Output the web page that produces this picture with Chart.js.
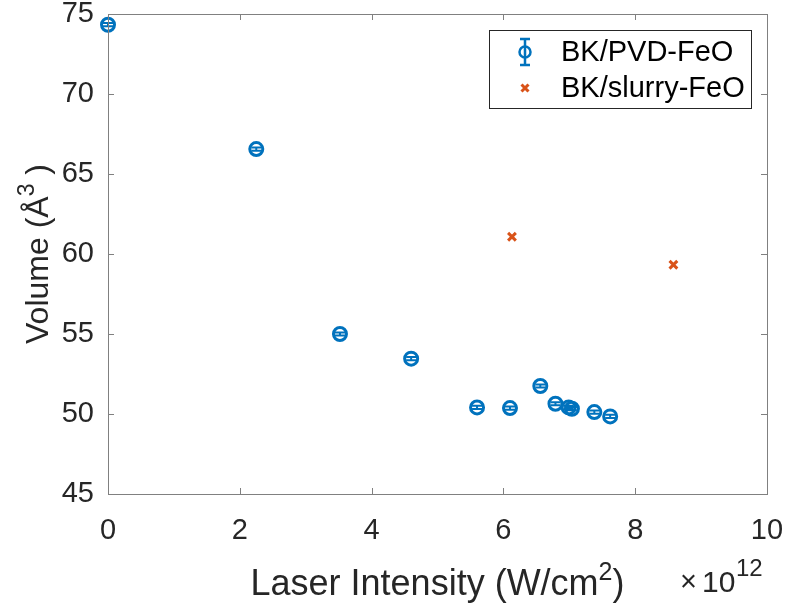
<!DOCTYPE html>
<html>
<head>
<meta charset="utf-8">
<script src="https://cdn.jsdelivr.net/npm/chart.js@4.4.1/dist/chart.umd.min.js"></script>
<style>
  html, body { margin: 0; padding: 0; background: #fff; }
  #wrap { width: 787px; height: 610px; }
</style>
</head>
<body>
<div id="wrap"><canvas id="chart" width="787" height="610"></canvas></div>
<script>
// BK/PVD-FeO (with small error bars)
const pvdX = [0, 2.25, 3.52, 4.60, 5.60, 6.10, 6.56, 6.79, 6.99, 7.04, 7.38, 7.62];
const pvdY = [74.33, 66.56, 55.0, 53.46, 50.41, 50.37, 51.75, 50.64, 50.41, 50.33, 50.12, 49.85];
const pvdErr = [0.1, 0.1, 0.1, 0.1, 0.1, 0.1, 0.1, 0.1, 0.1, 0.1, 0.1, 0.1];

// BK/slurry-FeO
const slurryX = [6.13, 8.58];
const slurryY = [61.08, 59.33];

const xTicks = [0, 2, 4, 6, 8, 10];
const yTicks = [45, 50, 55, 60, 65, 70, 75];

const BLUE = '#0072BD';
const ORANGE = '#D95319';
const TEXT = '#262626';
const AXIS = '#808080';
const FONT = '"Liberation Sans", Arial, Helvetica, sans-serif';

// draw text with superscript parts: parts = [[text, isSup], ...]
function richWidth(ctx, parts, size, supSize) {
    let w = 0;
    parts.forEach(p => {
        ctx.font = (p[1] ? supSize : size) + 'px ' + FONT;
        w += ctx.measureText(p[0]).width;
    });
    return w;
}
function drawRich(ctx, parts, x, y, size, supSize, rise) {
    let cx = x;
    parts.forEach(p => {
        ctx.font = (p[1] ? supSize : size) + 'px ' + FONT;
        ctx.fillText(p[0], cx, p[1] ? y - rise : y);
        cx += ctx.measureText(p[0]).width;
    });
}

// no extra room for overhanging tick labels, the box is placed by hand
function noPad(s) {
    s.paddingTop = 0;
    s.paddingBottom = 0;
    s.paddingLeft = 0;
    s.paddingRight = 0;
}

const matlabAxes = {
    id: 'matlabAxes',
    beforeDatasetsDraw(chart) {
        // error bars
        const ctx = chart.ctx;
        const xs = chart.scales.x, ys = chart.scales.y;
        ctx.save();
        ctx.strokeStyle = BLUE;
        ctx.lineWidth = 2;
        pvdX.forEach((v, i) => {
            const px = xs.getPixelForValue(v);
            const top = ys.getPixelForValue(pvdY[i] + pvdErr[i]);
            const bot = ys.getPixelForValue(pvdY[i] - pvdErr[i]);
            ctx.beginPath();
            ctx.moveTo(px, top); ctx.lineTo(px, bot);
            ctx.moveTo(px - 5, top); ctx.lineTo(px + 5, top);
            ctx.moveTo(px - 5, bot); ctx.lineTo(px + 5, bot);
            ctx.stroke();
        });
        ctx.restore();
    },
    afterDraw(chart) {
        const ctx = chart.ctx;
        const a = chart.chartArea;
        const xs = chart.scales.x, ys = chart.scales.y;
        ctx.save();

        // box and inward ticks
        ctx.strokeStyle = AXIS;
        ctx.lineWidth = 1;
        ctx.strokeRect(Math.round(a.left) + 0.5, Math.round(a.top) + 0.5,
            Math.round(a.right - a.left), Math.round(a.bottom - a.top));
        ctx.beginPath();
        xTicks.forEach(t => {
            const px = Math.round(xs.getPixelForValue(t)) + 0.5;
            ctx.moveTo(px, a.bottom); ctx.lineTo(px, a.bottom - 6);
            ctx.moveTo(px, a.top); ctx.lineTo(px, a.top + 6);
        });
        yTicks.forEach(t => {
            const py = Math.round(ys.getPixelForValue(t)) + 0.5;
            ctx.moveTo(a.left, py); ctx.lineTo(a.left + 6, py);
            ctx.moveTo(a.right, py); ctx.lineTo(a.right - 6, py);
        });
        ctx.stroke();

        ctx.fillStyle = TEXT;
        ctx.textBaseline = 'alphabetic';
        ctx.textAlign = 'left';

        // x axis title
        const xParts = [['Laser Intensity (W/cm', false], ['2', true], [')', false]];
        const xw = richWidth(ctx, xParts, 36, 25);
        drawRich(ctx, xParts, (a.left + a.right) / 2 - xw / 2, 595, 36, 25, 15);

        // exponent
        ctx.font = '29px ' + FONT;
        ctx.fillText('\u00d7', 680, 591);
        ctx.font = '30px ' + FONT;
        ctx.fillText('10', 702, 592);
        ctx.font = '24px ' + FONT;
        ctx.fillText('12', 736, 576);

        // y axis title
        ctx.save();
        ctx.translate(48, (a.top + a.bottom) / 2);
        ctx.rotate(-Math.PI / 2);
        const yParts = [['Volume (\u00c5', false], ['3', true], [' )', false]];
        const yw = richWidth(ctx, yParts, 32, 23);
        drawRich(ctx, yParts, -yw / 2, 0, 32, 23, 14);
        ctx.restore();

        // legend
        const lx = 489.5, ly = 30.5, lw = 262, lh = 78;
        ctx.fillStyle = '#fff';
        ctx.fillRect(lx, ly, lw, lh);
        ctx.strokeStyle = '#262626';
        ctx.lineWidth = 1;
        ctx.strokeRect(lx, ly, lw, lh);

        const mx = 525, r1 = 52, r2 = 88;
        ctx.strokeStyle = BLUE;
        ctx.lineWidth = 2.5;
        ctx.beginPath();
        ctx.moveTo(mx, r1 - 13); ctx.lineTo(mx, r1 + 13);
        ctx.moveTo(mx - 5, r1 - 13); ctx.lineTo(mx + 5, r1 - 13);
        ctx.moveTo(mx - 5, r1 + 13); ctx.lineTo(mx + 5, r1 + 13);
        ctx.stroke();
        ctx.beginPath();
        ctx.arc(mx, r1, 5.5, 0, Math.PI * 2);
        ctx.stroke();

        ctx.strokeStyle = ORANGE;
        ctx.lineWidth = 3;
        ctx.beginPath();
        ctx.moveTo(mx - 3.5, r2 - 3.5); ctx.lineTo(mx + 3.5, r2 + 3.5);
        ctx.moveTo(mx + 3.5, r2 - 3.5); ctx.lineTo(mx - 3.5, r2 + 3.5);
        ctx.stroke();

        ctx.fillStyle = '#000';
        ctx.font = '29px ' + FONT;
        ctx.textBaseline = 'middle';
        ctx.fillText('BK/PVD-FeO', 561, r1 + 1);
        ctx.fillText('BK/slurry-FeO', 561, r2 + 1);

        ctx.restore();
    }
};

const ctx = document.getElementById('chart').getContext('2d');
new Chart(ctx, {
    type: 'scatter',
    data: {
        datasets: [{
            label: 'BK/PVD-FeO',
            data: pvdX.map((x, i) => ({ x: x, y: pvdY[i] })),
            pointStyle: 'circle',
            pointRadius: 6.5,
            pointBorderWidth: 3,
            borderColor: BLUE,
            backgroundColor: 'rgba(255,255,255,0)',
            clip: false
        }, {
            label: 'BK/slurry-FeO',
            data: slurryX.map((x, i) => ({ x: x, y: slurryY[i] })),
            pointStyle: 'crossRot',
            pointRadius: 5.5,
            pointBorderWidth: 3,
            borderColor: ORANGE,
            backgroundColor: ORANGE,
            clip: false
        }]
    },
    options: {
        responsive: false,
        animation: false,
        layout: { padding: { top: 14, right: 20, left: 0, bottom: 0 } },
        plugins: {
            legend: { display: false },
            tooltip: { enabled: false }
        },
        scales: {
            x: {
                type: 'linear',
                min: 0,
                max: 10,
                afterFit: (s) => { s.height = 116; noPad(s); },
                afterBuildTicks: (s) => { s.ticks = xTicks.map(v => ({ value: v })); },
                grid: { display: false, drawTicks: false },
                border: { display: false },
                ticks: {
                    color: TEXT,
                    font: { family: FONT, size: 29 },
                    padding: 20,
                    maxRotation: 0
                }
            },
            y: {
                type: 'linear',
                min: 45,
                max: 75,
                afterFit: (s) => { s.width = 108; noPad(s); },
                afterBuildTicks: (s) => { s.ticks = yTicks.map(v => ({ value: v })); },
                grid: { display: false, drawTicks: false },
                border: { display: false },
                ticks: {
                    color: TEXT,
                    font: { family: FONT, size: 29 },
                    padding: 14
                }
            }
        }
    },
    plugins: [matlabAxes]
});
</script>
</body>
</html>
